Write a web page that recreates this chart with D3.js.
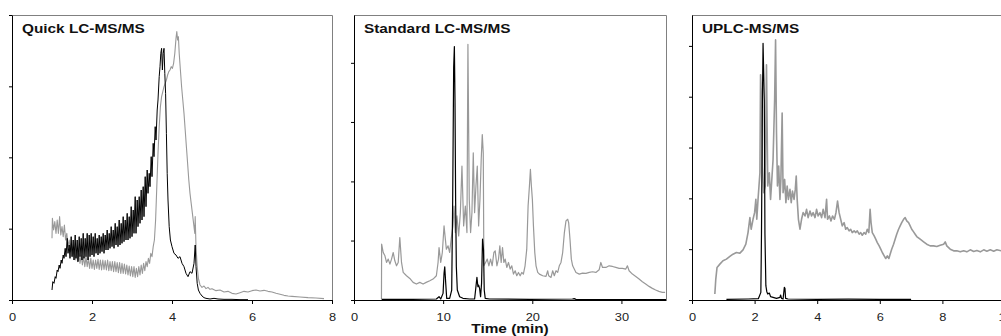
<!DOCTYPE html>
<html>
<head>
<meta charset="utf-8">
<script src="https://cdn.jsdelivr.net/npm/d3@7"></script>
<style>
  body { margin: 0; background: #fff; }
  svg { display: block; }
</style>
</head>
<body>
<div id="chart"></div>
<script>
// chromatogram traces, [time (min), intensity]
const quickBlack = [[1.00,3],[1.02,5.5],[1.05,5],[1.08,7],[1.10,6.5],[1.13,9],[1.15,8.5],[1.18,10.5],[1.20,9.5],[1.23,12],[1.25,11],[1.28,13.5],[1.30,12.5],[1.33,15.5],[1.35,13],[1.38,18.5],[1.40,14],
  [1.43,16.5],[1.45,12.5],[1.48,19],[1.50,13],[1.53,18],[1.55,12],[1.58,19.5],[1.60,12.5],[1.63,18],[1.65,11.5],[1.68,19],[1.70,13],[1.73,18.5],[1.75,12],[1.78,20],[1.80,12.5],[1.83,18.5],[1.85,13],[1.88,20],[1.90,12],[1.93,19.5],[1.95,13],[1.98,20],
  [2.00,13.5],[2.03,19],[2.05,13],[2.08,20],[2.10,14],[2.13,18.5],[2.15,13.5],[2.18,19.5],[2.20,14],[2.23,19],[2.25,14.5],[2.28,20],[2.30,14],[2.33,19.5],[2.35,15],[2.38,21],[2.40,15],[2.43,20],[2.45,15.5],[2.48,22],
  [2.50,16],[2.53,21],[2.55,15.5],[2.58,23],[2.60,16.5],[2.63,22],[2.65,16],[2.68,24],[2.70,16.5],[2.73,23],[2.75,17],[2.78,25],[2.80,17.5],[2.83,24],[2.85,18],[2.88,26],[2.90,18],[2.93,25],[2.95,18.5],[2.98,28],
  [3.00,19],[3.03,27],[3.05,20],[3.08,31],[3.10,20],[3.13,30],[3.15,22],[3.18,31],[3.20,23],[3.23,33],[3.25,24],[3.28,34],[3.30,25],[3.33,37],[3.35,28],[3.38,39],[3.40,32],[3.43,38],[3.45,34],[3.48,43],
  [3.50,37],[3.53,47],[3.55,43],[3.58,52],[3.60,48],[3.63,57],[3.65,60],[3.68,67],[3.70,70],[3.72,74],[3.74,75.5],[3.76,69],[3.78,74],[3.80,75.5],[3.82,68],[3.84,62],[3.86,50],[3.88,38],[3.90,30],[3.93,22],[3.96,18],
  [4.00,16],[4.05,14],[4.10,13.5],[4.15,12.5],[4.20,13],[4.25,11],[4.30,10],[4.35,8],[4.40,7],[4.45,8.5],[4.50,8],[4.55,11],[4.58,16.5],[4.60,10],[4.63,5],[4.66,3],[4.70,2],[4.75,1.2],[4.80,0.7],[4.85,0.5],
  [4.95,0.3],[5.05,0.5],[5.15,0.3],[5.30,0.2],[5.50,0.2],[5.70,0.1],[5.90,0.1]];

const quickGray = [[1.00,18.5],[1.01,24.5],[1.04,21],[1.07,23.5],[1.10,20],[1.13,24],[1.16,20],[1.19,25],[1.22,19.5],[1.25,22],[1.28,19],[1.31,22.5],[1.34,18],[1.37,20],[1.40,16],[1.43,18],[1.46,14.5],[1.49,16],
  [1.52,13],[1.55,15],[1.58,12],[1.61,14.5],[1.64,11.5],[1.67,14],[1.70,11],[1.73,13.5],[1.76,10.5],[1.79,13],[1.82,10],[1.85,13],[1.88,10],[1.91,12.5],[1.94,9.5],[1.97,12.5],[2.00,9.5],[2.03,12],[2.06,9.2],[2.09,12],
  [2.12,9.5],[2.15,12.2],[2.18,9.2],[2.21,12],[2.24,9],[2.27,12],[2.30,9.2],[2.33,11.8],[2.36,9],[2.39,12],[2.42,8.8],[2.45,11.5],[2.48,8.8],[2.51,11.5],[2.54,8.5],[2.57,11.5],[2.60,8.5],[2.63,11.2],[2.66,8.2],
  [2.69,11.2],[2.72,8],[2.75,11],[2.78,8],[2.81,10.8],[2.84,7.8],[2.87,10.5],[2.90,7.5],[2.93,10.2],[2.96,7.2],[2.99,10],[3.02,7],[3.05,10],[3.08,6.8],[3.11,9.5],[3.14,7],[3.17,10],[3.20,7.5],[3.23,10.5],
  [3.26,8],[3.29,11],[3.32,8.8],[3.35,11.5],[3.38,10],[3.41,12.5],[3.44,11],[3.47,14],[3.50,13],[3.53,16],[3.56,18],[3.59,24],[3.62,34],[3.65,44],[3.68,52],[3.71,58],[3.74,61],[3.77,62.5],[3.80,64],[3.83,65],
  [3.86,66],[3.89,67.5],[3.92,68.5],[3.95,69],[3.98,70],[4.01,69.5],[4.04,71],[4.07,74],[4.10,78.5],[4.12,80.5],[4.14,78],[4.16,79],[4.18,74],[4.21,69],[4.24,64],[4.27,60],[4.30,56],[4.33,51],[4.36,46],
  [4.39,41],[4.42,36],[4.45,32],[4.48,29],[4.51,26],[4.54,23],[4.57,20],[4.58,25],[4.60,16],[4.63,10],[4.66,6.5],[4.70,4.5],[4.75,3.8],[4.80,4.2],[4.85,3.4],[4.90,3.8],[4.95,3.2],[5.00,3.4],[5.10,2.8],
  [5.20,3],[5.30,2.4],[5.40,2.6],[5.50,2],[5.60,1.8],[5.70,2.2],[5.80,2.6],[5.90,2.4],[6.00,2.8],[6.10,3],[6.20,2.7],[6.30,2.9],[6.40,2.6],[6.50,2.4],[6.60,2],[6.70,1.7],[6.80,1.4],[6.90,1.2],[7.00,1.1],
  [7.20,0.9],[7.40,0.7],[7.60,0.6],[7.80,0.4]];

const stdBlack = [[3.1,0.2],[6.6,0.2],[9.24,0.3],[9.54,1],[9.73,0.3],[9.99,2],[10.1,8],[10.18,10],[10.29,5],[10.4,0.5],[10.73,0.5],[10.96,3],[11.07,30],[11.18,70],[11.26,76.3],[11.33,60],[11.4,30],[11.48,10],
  [11.59,3],[11.85,1],[12.22,0.5],[12.97,0.3],[13.53,0.3],[13.64,3],[13.79,6.8],[13.9,4],[13.98,4.5],[14.09,3.5],[14.2,1],[14.31,5],[14.42,18.3],[14.53,15],[14.61,3],[14.72,0.5],[15.2,0.3],[19.7,0.2],
  [24.5,0.3],[24.7,0.4],[24.9,0.2],[35,0.1]];

const stdGray = [[3.08,0.3],[3.1,16.8],[3.28,14.3],[3.47,13.3],[3.65,11.3],[3.84,12.3],[4.03,10.8],[4.21,12.3],[4.4,14.3],[4.58,11.8],[4.77,10.3],[4.96,11.3],[5.14,18.8],[5.33,11.3],[5.52,8.3],[5.89,7.3],
  [6.26,6.5],[6.63,5.3],[7.0,4.8],[7.38,5.3],[7.75,4.8],[8.1,5.3],[8.5,5.8],[8.87,6.3],[9.24,7.3],[9.43,11.3],[9.54,15.8],[9.73,11.3],[9.91,14.3],[10.1,22.3],[10.36,15.3],[10.55,16.3],[10.73,14.3],
  [10.92,18.8],[11.1,22.3],[11.22,28.3],[11.37,20.3],[11.55,25.3],[11.74,19.3],[11.93,26.3],[12.11,40.3],[12.3,22.3],[12.49,28.3],[12.67,20.3],[12.78,77],[12.93,30.3],[13.08,20.3],[13.23,26.3],[13.38,44.3],
  [13.53,26.3],[13.68,34.3],[13.83,40.3],[13.98,22.3],[14.13,30.3],[14.27,42.3],[14.39,49.8],[14.5,44.3],[14.57,10.3],[14.76,11.3],[14.95,12.3],[15.13,10.3],[15.32,12.3],[15.5,10.3],[15.69,14.3],[15.84,14.8],
  [16.03,10.3],[16.21,12.3],[16.36,16.3],[16.51,11.3],[16.66,15.8],[16.81,11.3],[16.96,12.3],[17.14,9.8],[17.33,11.3],[17.52,9.3],[17.7,10.3],[17.89,7.8],[18.08,8.8],[18.26,7.3],[18.45,8.3],[18.64,7.3],
  [18.82,8.3],[19.0,7.8],[19.19,10.3],[19.38,15.3],[19.53,28.3],[19.68,34.3],[19.79,39.3],[19.9,34.3],[20.01,30.3],[20.13,22.3],[20.28,14.3],[20.42,10.3],[20.61,8.3],[20.8,7.8],[21.17,7.3],[21.54,7.1],
  [21.73,8.8],[21.84,7.3],[22.1,6.8],[22.29,8.8],[22.47,7.3],[22.66,8.8],[22.85,8.3],[23.03,10.3],[23.22,11.3],[23.41,14.3],[23.6,20.3],[23.78,23.8],[23.97,24.3],[24.08,23.3],[24.23,18.3],[24.38,12.3],
  [24.53,10.3],[24.9,8.3],[25.27,7.8],[25.64,8.1],[26.02,8],[26.39,8.3],[26.76,8.5],[27.13,8.3],[27.5,9.1],[27.69,11.3],[27.88,9.8],[28.25,9.8],[28.62,10.3],[29.0,10.1],[29.37,9.8],[29.74,9.5],[30.12,9.5],
  [30.49,9.3],[30.67,10.3],[30.86,8.8],[31.23,7.8],[31.61,7.1],[31.98,6.3],[32.35,5.5],[32.72,4.8],[33.1,4.1],[33.47,3.5],[33.84,3],[34.2,2.6],[34.59,2.3],[34.9,2.3]];

const uplcBlack = [[1.1,0.2],[1.8,0.3],[2.12,0.4],[2.2,2.3],[2.22,20],[2.25,60],[2.27,77.3],[2.31,60],[2.33,20],[2.36,4.3],[2.39,2.5],[2.42,1.8],[2.47,2.1],[2.51,1],[2.59,0.8],[2.7,0.5],[2.81,0.8],
  [2.83,1.5],[2.86,0.5],[2.91,0.3],[2.95,3.8],[2.97,3.5],[2.99,0.5],[3.07,0.3],[4,0.2],[5,0.25],[6,0.2],[7,0.2]];

const uplcGray = [[0.73,1.8],[0.76,6.3],[0.8,9.8],[0.89,10.8],[0.99,11.8],[1.1,12.3],[1.21,13.1],[1.31,13.8],[1.42,14.3],[1.53,14.1],[1.63,15.1],[1.72,16.8],[1.79,20.3],[1.85,24.8],[1.89,21.3],[1.95,24.3],
  [2.0,26.3],[2.04,30.3],[2.07,24.3],[2.11,30.3],[2.17,38.3],[2.19,67.8],[2.22,60.3],[2.25,40],[2.29,32.3],[2.34,34.3],[2.38,70.8],[2.42,34.3],[2.47,38.3],[2.51,30.3],[2.55,36.3],[2.59,42.3],[2.64,60.3],
  [2.67,78.3],[2.7,50.3],[2.73,34.3],[2.77,40.3],[2.81,30.3],[2.84,36.3],[2.88,56.3],[2.91,32.3],[2.96,36.3],[3.0,29.3],[3.04,34.3],[3.08,30.3],[3.13,33.3],[3.17,29.3],[3.21,32.8],[3.26,30.3],[3.3,33.3],
  [3.33,37.3],[3.36,30.3],[3.4,24.3],[3.45,21.3],[3.5,24.3],[3.55,26.3],[3.61,25.3],[3.66,27.3],[3.71,24.8],[3.77,26.8],[3.82,25.3],[3.87,26.3],[3.93,24.8],[3.98,27.3],[4.03,25.3],[4.09,26.3],[4.14,24.8],
  [4.19,27.3],[4.25,24.8],[4.3,30.3],[4.33,24.3],[4.39,25.3],[4.44,23.8],[4.49,25.3],[4.55,24.3],[4.6,26.3],[4.65,29.8],[4.7,26.3],[4.75,24.3],[4.8,22.3],[4.86,23.3],[4.91,21.3],[4.96,21.8],[5.02,20.8],
  [5.07,21.3],[5.12,20.3],[5.18,20.8],[5.23,20.3],[5.28,20.8],[5.34,19.8],[5.39,20.3],[5.44,19.5],[5.5,20.3],[5.55,19.8],[5.6,21.3],[5.65,20.3],[5.69,27.3],[5.72,23.3],[5.76,20.3],[5.82,19.3],[5.87,18.3],
  [5.92,17.3],[5.98,16.3],[6.03,15.3],[6.08,14.3],[6.14,13.3],[6.19,12.5],[6.24,13.3],[6.29,12.5],[6.33,13.8],[6.38,15.3],[6.44,16.8],[6.49,18.3],[6.54,19.8],[6.6,21.3],[6.65,22.3],[6.7,23.3],[6.76,24.3],
  [6.81,24.8],[6.86,23.8],[6.92,23.3],[6.97,22.3],[7.02,21.3],[7.08,20.5],[7.13,19.8],[7.18,19.1],[7.29,18.3],[7.4,17.5],[7.5,16.8],[7.61,16.3],[7.72,16.3],[7.82,16.1],[7.93,16.5],[8.04,16.8],[8.09,17.5],
  [8.14,16.3],[8.25,15.3],[8.36,14.8],[8.46,14.8],[8.57,14.5],[8.68,14.8],[8.78,14.5],[8.89,15.1],[9.0,14.6],[9.1,14.9],[9.21,14.5],[9.32,15.1],[9.42,14.7],[9.53,15.1],[9.64,14.7],[9.74,15.1],[9.88,14.8],[10,14.9]];

// axis ticks
const quickXTicks = [0, 2, 4, 6, 8];
const stdXTicks = [0, 10, 20, 30];
const uplcXTicks = [0, 2, 4, 6, 8, 10];
const quickYTicks = [0, 21.4, 42.8, 64.1, 85.5];
const stdYTicks = [0, 17.9, 35.7, 53.6, 71.4];
const uplcYTicks = [0, 15.3, 30.6, 45.9, 61.2, 76.5];

const titles = ["Quick LC-MS/MS", "Standard LC-MS/MS", "UPLC-MS/MS"];

// panel layout
const plotTop = 15, plotBottom = 300;
const panels = [
  {left: 12,  right: 332,  xMax: 8,  yMax: 85.5, xTicks: quickXTicks, yTicks: quickYTicks, black: quickBlack, gray: quickGray, blackW: 1,   grayW: 1.1},
  {left: 354, right: 666,  xMax: 35, yMax: 85.8, xTicks: stdXTicks,   yTicks: stdYTicks,   black: stdBlack,   gray: stdGray,   blackW: 1.2, grayW: 1.2},
  {left: 692, right: 1005, xMax: 10, yMax: 85.8, xTicks: uplcXTicks,  yTicks: uplcYTicks,  black: uplcBlack,  gray: uplcGray,  blackW: 1.2, grayW: 1.6}
];

const stretch = 1.28;

const svg = d3.select("#chart")
  .append("svg")
    .attr("width", 1001)
    .attr("height", 336)
    .style("font-family", "Arial, 'Liberation Sans', sans-serif");

panels.forEach((p, i) => {
  const x = d3.scaleLinear().domain([0, p.xMax]).range([p.left, p.right]);
  const y = d3.scaleLinear().domain([0, p.yMax]).range([plotBottom, plotTop]);

  const g = svg.append("g");

  // frame (top and right sides in grey)
  g.append("path")
    .attr("d", `M${p.left},${plotTop + 0.5}H${p.right + 0.5}V${plotBottom}`)
    .attr("fill", "none")
    .attr("stroke", "#808080")
    .attr("stroke-width", 1);

  const line = d3.line()
    .x(d => x(d[0]))
    .y(d => y(d[1]));

  g.append("path")
    .datum(p.gray)
    .attr("d", line)
    .attr("fill", "none")
    .attr("stroke", "#999")
    .attr("stroke-width", p.grayW)
    .attr("stroke-linejoin", "round");

  g.append("path")
    .datum(p.black)
    .attr("d", line)
    .attr("fill", "none")
    .attr("stroke", "#000")
    .attr("stroke-width", p.blackW)
    .attr("stroke-linejoin", "round");

  // Y axis, ticks only
  const yAxis = g.append("g")
    .attr("transform", `translate(${p.left},0)`)
    .call(d3.axisLeft(y).tickValues(p.yTicks).tickSize(3).tickSizeOuter(0).tickFormat(""));
  yAxis.selectAll("path, line").attr("stroke", "#000");

  // X axis
  const xAxis = g.append("g")
    .attr("transform", `translate(0,${plotBottom})`)
    .call(d3.axisBottom(x).tickValues(p.xTicks).tickSize(4).tickSizeOuter(0).tickPadding(10));
  xAxis.selectAll("path, line").attr("stroke", "#000");
  xAxis.selectAll("text")
    .attr("font-size", 10)
    .attr("font-family", "Arial, 'Liberation Sans', sans-serif")
    .attr("fill", "#222")
    .attr("transform", `scale(${stretch},1)`);

  // title
  svg.append("text")
    .attr("transform", `translate(${p.left + 10},33) scale(${stretch},1)`)
    .attr("font-size", 12)
    .attr("font-weight", "bold")
    .attr("fill", "#111")
    .text(titles[i]);
});

// x axis label
svg.append("text")
  .attr("transform", `translate(510,333) scale(${stretch},1)`)
  .attr("text-anchor", "middle")
  .attr("font-size", 12)
  .attr("font-weight", "bold")
  .attr("fill", "#111")
  .text("Time (min)");
</script>
</body>
</html>
